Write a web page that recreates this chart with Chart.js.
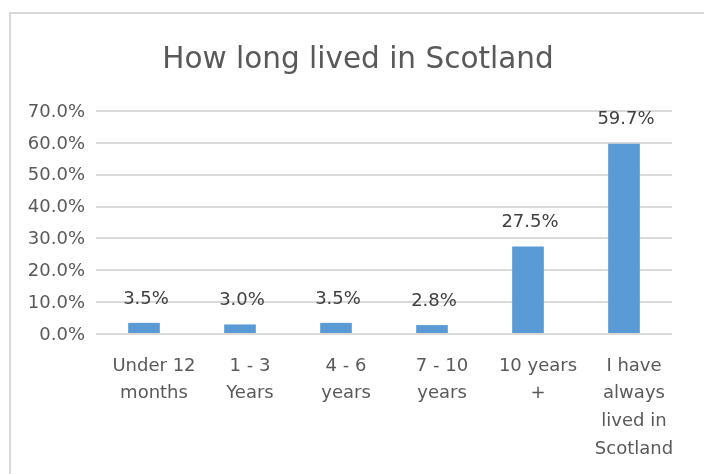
<!DOCTYPE html>
<html>
<head>
<meta charset="utf-8">
<script src="https://cdn.jsdelivr.net/npm/chart.js@4/dist/chart.umd.min.js"></script>
<style>
  body { margin: 0; background: #fff; }
</style>
</head>
<body>
<canvas id="livedChart" width="704" height="474"></canvas>
<script>
// Chart data
var chartTitle = 'How long lived in Scotland';
var categories = [
    ['Under 12', 'months'],
    ['1 - 3', 'Years'],
    ['4 - 6', 'years'],
    ['7 - 10', 'years'],
    ['10 years', '+'],
    ['I have', 'always', 'lived in', 'Scotland']
];
var shares = [3.5, 3.0, 3.5, 2.8, 27.5, 59.7];
var yMin = 0, yMax = 70, yStep = 10;

var fontFamily = '"DejaVu Sans", sans-serif';

// light frame + title (title drawn by hand so it can sit a bit right of center)
var framePlugin = {
    id: 'frame',
    beforeDraw: function (chart) {
        var ctx = chart.ctx;
        ctx.save();
        ctx.fillStyle = '#ffffff';
        ctx.fillRect(0, 0, chart.width, chart.height);
        ctx.strokeStyle = '#d9d9d9';
        ctx.lineWidth = 2;
        ctx.strokeRect(10, 13, 760, 520);
        ctx.font = '29.5px ' + fontFamily;
        ctx.fillStyle = '#595959';
        ctx.textAlign = 'center';
        ctx.textBaseline = 'middle';
        ctx.fillText(chartTitle, 358, 60);
        ctx.restore();
    }
};

// value labels over the bars
var valueLabels = {
    id: 'valueLabels',
    afterDatasetsDraw: function (chart) {
        var ctx = chart.ctx;
        var meta = chart.getDatasetMeta(0);
        ctx.save();
        ctx.font = '18px ' + fontFamily;
        ctx.fillStyle = '#404040';
        ctx.textAlign = 'center';
        ctx.textBaseline = 'middle';
        meta.data.forEach(function (bar, i) {
            ctx.fillText(shares[i].toFixed(1) + '%', bar.x + 2, bar.y - 24);
        });
        ctx.restore();
    }
};

var ctx = document.getElementById('livedChart').getContext('2d');
var livedChart = new Chart(ctx, {
    type: 'bar',
    data: {
        labels: categories,
        datasets: [{
            data: shares,
            backgroundColor: '#5b9bd5',
            categoryPercentage: 1,
            barPercentage: 0.33
        }]
    },
    plugins: [framePlugin, valueLabels],
    options: {
        responsive: false,
        animation: false,
        layout: {
            padding: { left: 10, right: 32, top: 111, bottom: 0 }
        },
        scales: {
            x: {
                grid: { display: false, drawTicks: false },
                border: { display: false },
                ticks: {
                    color: '#595959',
                    font: { family: fontFamily, size: 18, lineHeight: 1.54 },
                    padding: 18,
                    labelOffset: 10,
                    maxRotation: 0,
                    autoSkip: false
                },
                afterFit: function (scale) {
                    scale.height = 140;
                }
            },
            y: {
                min: yMin,
                max: yMax,
                grid: { color: '#d9d9d9', lineWidth: 2, drawTicks: false },
                border: { display: false },
                ticks: {
                    stepSize: yStep,
                    color: '#595959',
                    font: { family: fontFamily, size: 18 },
                    padding: 11,
                    labelOffset: 1,
                    callback: function (value) {
                        return value.toFixed(1) + '%';
                    }
                },
                afterFit: function (scale) {
                    scale.width = 86;
                }
            }
        },
        plugins: {
            title: { display: false },
            legend: { display: false },
            tooltip: { enabled: false }
        }
    }
});
</script>
</body>
</html>
